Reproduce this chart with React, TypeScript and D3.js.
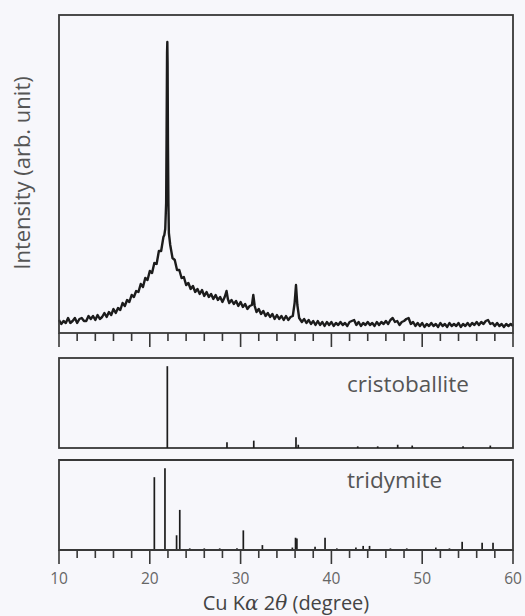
import React from "react";
import * as d3 from "d3";

// ---- Data -----------------------------------------------------------
// Measured XRD pattern: [2θ (deg), intensity (arb.)]
const scan: [number, number][] = [
  [10.0, 13], [10.25, 9], [10.5, 12], [10.75, 10], [11.0, 15], [11.25, 10], [11.5, 12], [11.75, 15],
  [12.0, 10], [12.25, 14], [12.5, 15], [12.75, 12], [13.0, 12], [13.25, 17], [13.5, 14], [13.75, 17],
  [14.0, 13], [14.25, 18], [14.5, 14], [14.75, 16], [15.0, 20], [15.25, 16], [15.5, 21], [15.75, 18],
  [16.0, 24], [16.25, 20], [16.5, 25], [16.75, 23], [17.0, 30], [17.25, 27], [17.5, 33], [17.75, 31],
  [18.0, 38], [18.25, 36], [18.5, 42], [18.75, 41], [19.0, 49], [19.25, 46], [19.5, 55], [19.75, 53],
  [20.0, 62], [20.25, 60], [20.5, 70], [20.75, 69], [21.0, 82], [21.25, 82], [21.5, 96], [21.6, 98],
  [21.7, 104], [21.8, 130], [21.85, 200], [21.9, 280], [21.93, 291], [21.96, 270], [22.0, 190], [22.05, 130],
  [22.1, 100], [22.25, 88], [22.5, 75], [22.75, 73], [23.0, 63], [23.25, 63], [23.5, 55], [23.75, 56],
  [24.0, 48], [24.25, 50], [24.5, 44], [24.75, 47], [25.0, 41], [25.25, 44], [25.5, 39], [25.75, 43],
  [26.0, 37], [26.25, 41], [26.5, 36], [26.75, 39], [27.0, 34], [27.25, 38], [27.5, 33], [27.75, 36],
  [28.0, 31], [28.25, 36], [28.45, 42], [28.6, 34], [28.75, 30], [29.0, 33], [29.25, 29], [29.5, 32],
  [29.75, 27], [30.0, 31], [30.25, 26], [30.5, 29], [30.75, 24], [31.0, 27], [31.25, 28], [31.4, 38],
  [31.55, 27], [31.75, 21], [32.0, 24], [32.25, 19], [32.5, 22], [32.75, 17], [33.0, 20], [33.25, 16],
  [33.5, 19], [33.75, 14], [34.0, 18], [34.25, 14], [34.5, 17], [34.75, 13], [35.0, 17], [35.25, 13],
  [35.5, 16], [35.75, 17], [35.95, 30], [36.1, 48], [36.25, 28], [36.45, 15], [36.75, 11], [37.0, 14],
  [37.25, 10], [37.5, 13], [37.75, 9], [38.0, 12], [38.25, 8], [38.5, 12], [38.75, 8], [39.0, 11],
  [39.25, 7], [39.5, 11], [39.75, 8], [40.0, 11], [40.25, 7], [40.5, 10], [40.75, 8], [41.0, 11],
  [41.25, 8], [41.5, 10], [41.75, 7], [42.0, 11], [42.25, 12], [42.5, 13], [42.75, 8], [43.0, 11],
  [43.25, 7], [43.5, 10], [43.75, 8], [44.0, 11], [44.25, 8], [44.5, 10], [44.75, 7], [45.0, 11],
  [45.25, 8], [45.5, 11], [45.75, 9], [46.0, 12], [46.25, 9], [46.5, 13], [46.75, 15], [47.0, 11],
  [47.25, 12], [47.5, 8], [47.75, 11], [48.0, 12], [48.25, 14], [48.5, 15], [48.75, 9], [49.0, 11],
  [49.25, 7], [49.5, 10], [49.75, 7], [50.0, 10], [50.25, 6], [50.5, 9], [50.75, 7], [51.0, 10],
  [51.25, 7], [51.5, 9], [51.75, 6], [52.0, 10], [52.25, 7], [52.5, 9], [52.75, 6], [53.0, 10],
  [53.25, 7], [53.5, 9], [53.75, 7], [54.0, 10], [54.25, 6], [54.5, 9], [54.75, 7], [55.0, 10],
  [55.25, 7], [55.5, 10], [55.75, 8], [56.0, 11], [56.25, 8], [56.5, 11], [56.75, 9], [57.0, 12],
  [57.25, 13], [57.5, 9], [57.75, 10], [58.0, 7], [58.25, 10], [58.5, 7], [58.75, 9], [59.0, 6],
  [59.25, 9], [59.5, 7], [59.75, 9], [60.0, 7],
];

// Reference pattern: cristobalite [2θ, relative intensity]
const cristobalite: [number, number][] = [
  [21.93, 100], [28.5, 7], [31.45, 9], [36.1, 13], [36.35, 4], [42.9, 2], [45.1, 2],
  [47.3, 4], [48.9, 3], [54.5, 2], [57.5, 3],
];

// Reference pattern: tridymite [2θ, relative intensity]
const tridymite: [number, number][] = [
  [20.5, 89], [21.67, 100], [22.95, 18], [23.3, 49], [24.4, 2], [26.0, 2], [27.7, 2],
  [29.6, 2], [30.3, 24], [32.4, 6], [35.7, 3], [36.05, 15], [36.2, 14], [38.2, 4],
  [39.3, 15], [40.6, 2], [42.7, 3], [43.5, 5], [44.2, 5], [46.5, 2], [48.3, 2],
  [51.5, 3], [53.0, 2], [54.4, 10], [56.6, 9], [57.8, 9],
];

const xTickValues = [10, 20, 30, 40, 50, 60];
const xMinorTicks = d3.range(10, 60.001, 2);

// ---- Layout ---------------------------------------------------------
const W = 525;
const H = 616;
const left = 59;
const right = 513;
const top1 = 15, bot1 = 333;
const top2 = 358, bot2 = 448;
const top3 = 460, bot3 = 550;

const frame = "#383838";
const ink = "#1c1c1c";

export default function App() {
  const x = d3.scaleLinear().domain([10, 60]).range([left, right]);
  const y1 = d3.scaleLinear().domain([0, 318]).range([bot1, top1]);
  const y2 = d3.scaleLinear().domain([0, 110]).range([bot2, top2]);
  const y3 = d3.scaleLinear().domain([0, 110]).range([bot3, top3]);

  const line = d3
    .line<[number, number]>()
    .x((d) => x(d[0]))
    .y((d) => y1(d[1]));

  const ticks = (yb: number, key: string) => (
    <g key={key}>
      {xMinorTicks.map((t) => {
        const major = t % 10 === 0;
        return (
          <line
            key={t}
            x1={x(t)}
            x2={x(t)}
            y1={yb}
            y2={yb + (major ? 14 : 8)}
            stroke={frame}
            strokeWidth={1.6}
          />
        );
      })}
    </g>
  );

  const font = "'Open Sans', 'DejaVu Sans', sans-serif";

  return (
    <svg
      width={W}
      height={H}
      style={{ position: "absolute", left: 0, top: 0, background: "#f7f7fb" }}
    >
      <rect x={0} y={0} width={W} height={H} fill="#f7f7fb" />

      {/* Top panel: measured pattern */}
      <path d={line(scan) || ""} fill="none" stroke={ink} strokeWidth={2.4} strokeLinejoin="round" />
      <rect x={left} y={top1} width={right - left} height={bot1 - top1} fill="none" stroke={frame} strokeWidth={1.8} />
      {ticks(bot1, "t1")}

      {/* Middle panel: cristobalite */}
      <rect x={left} y={top2} width={right - left} height={bot2 - top2} fill="none" stroke={frame} strokeWidth={1.8} />
      {cristobalite.map((d, i) => (
        <line key={i} x1={x(d[0])} x2={x(d[0])} y1={y2(0)} y2={y2(d[1])} stroke={ink} strokeWidth={1.7} />
      ))}
      <text x={347} y={392} fontFamily={font} fontSize={22.5} fill="#555">
        cristoballite
      </text>

      {/* Bottom panel: tridymite */}
      {tridymite.map((d, i) => (
        <line key={i} x1={x(d[0])} x2={x(d[0])} y1={y3(0)} y2={y3(d[1])} stroke={ink} strokeWidth={1.7} />
      ))}
      <path
        d={`M${left},${bot3}V${top3}H${right}V${bot3}Z`}
        fill="none"
        stroke={frame}
        strokeWidth={1.8}
      />
      {ticks(bot3, "t3")}

      <text x={347} y={488} fontFamily={font} fontSize={22.5} fill="#555">
        tridymite
      </text>

      {/* X tick labels */}
      {xTickValues.map((t) => (
        <text key={t} x={x(t)} y={584} textAnchor="middle" fontFamily={font} fontSize={15.5} fill="#666">
          {t}
        </text>
      ))}

      {/* X axis title */}
      <text x={286} y={610} textAnchor="middle" fontFamily={font} fontSize={20} fill="#444">
        Cu K<tspan fontStyle="italic" fontFamily="'DejaVu Serif', serif">α</tspan> 2
        <tspan fontStyle="italic" fontFamily="'DejaVu Serif', serif">θ</tspan> (degree)
      </text>

      {/* Y axis title */}
      <text
        transform={`translate(30,173) rotate(-90)`}
        textAnchor="middle"
        fontFamily={font}
        fontSize={22}
        fill="#555"
      >
        Intensity (arb. unit)
      </text>
    </svg>
  );
}
